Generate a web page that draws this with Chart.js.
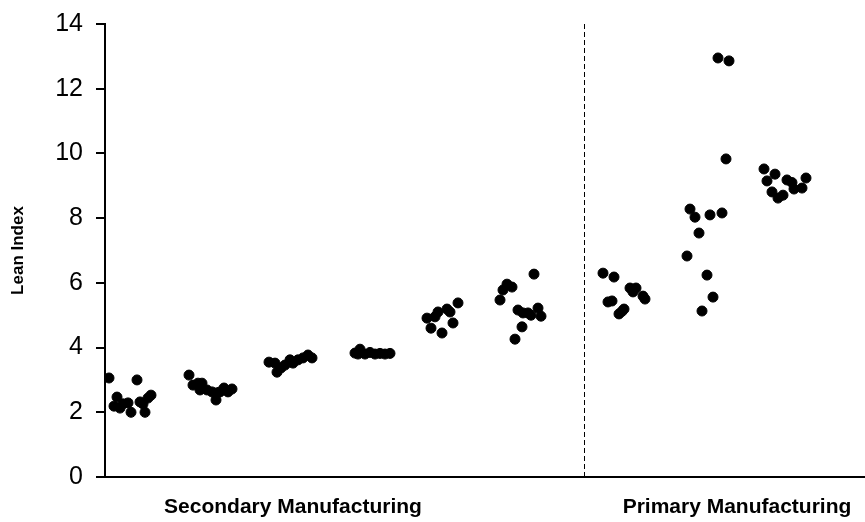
<!DOCTYPE html>
<html>
<head>
<meta charset="utf-8">
<script src="https://cdn.jsdelivr.net/npm/chart.js@4/dist/chart.umd.min.js"></script>
<style>
  html, body { margin: 0; padding: 0; background: #fff; }
  #wrap { width: 865px; height: 522px; }
</style>
</head>
<body>
<div id="wrap"><canvas id="chart" width="865" height="522"></canvas></div>
<script>
// Posições horizontais (unidades arbitrárias) e Lean Index de cada empresa
const secondaryX = [
    0.2, 1.6, 0.6, 0.45, 0.75, 0.9, 1.15, 1.3, 1.75, 2.0, 2.15, 2.3, 1.9,
    4.2, 4.4, 4.65, 4.85, 4.75, 5.1, 5.35, 5.55, 5.75, 5.95, 6.15, 6.35, 5.6,
    8.2, 8.5, 8.6, 8.8, 9.0, 9.25, 9.4, 9.65, 9.9, 10.15, 10.35,
    12.5, 12.75, 13.0, 13.25, 13.5, 13.75, 14.0, 12.65, 14.25,
    16.1, 16.3, 16.5, 16.65, 16.85, 17.1, 17.25, 17.4, 17.65,
    19.75, 19.9, 20.1, 20.35, 21.45, 20.65, 20.9, 21.15, 21.3, 21.65, 21.8, 20.85, 20.5
];
const secondaryY = [
    3.06, 3.0, 2.47, 2.19, 2.13, 2.26, 2.29, 2.0, 2.32, 2.0, 2.44, 2.53, 2.26,
    3.15, 2.84, 2.9, 2.9, 2.69, 2.69, 2.63, 2.38, 2.63, 2.75, 2.63, 2.72, 2.6,
    3.55, 3.52, 3.24, 3.37, 3.46, 3.62, 3.52, 3.62, 3.68, 3.77, 3.68,
    3.83, 3.95, 3.8, 3.85, 3.8, 3.82, 3.8, 3.8, 3.82,
    4.91, 4.6, 4.95, 5.1, 4.45, 5.19, 5.1, 4.76, 5.38,
    5.47, 5.78, 5.96, 5.87, 6.27, 5.16, 5.07, 5.07, 5.0, 5.22, 4.97, 4.64, 4.26
];
const primaryX = [
    24.9, 25.45, 26.25, 26.55, 26.4, 26.9, 27.0, 25.15, 25.35, 25.95, 25.7, 25.85,
    30.65, 31.2, 31.05, 29.25, 29.5, 30.25, 30.85, 29.7, 29.1, 30.1, 30.4, 29.85,
    32.95, 33.5, 33.1, 34.1, 34.35, 34.45, 34.85, 35.05, 33.35, 33.65, 33.9
];
const primaryY = [
    6.3, 6.18, 5.84, 5.84, 5.72, 5.59, 5.5, 5.41, 5.44, 5.19, 5.04, 5.12,
    12.95, 12.86, 9.83, 8.28, 8.03, 8.1, 8.16, 7.54, 6.83, 6.24, 5.56, 5.13,
    9.52, 9.36, 9.15, 9.18, 9.1, 8.9, 8.93, 9.24, 8.81, 8.62, 8.71
];

const groupLabels = ['Secondary Manufacturing', 'Primary Manufacturing'];
const groupCenters = [9.4, 31.6];
const dividerX = 23.975;
const yTicks = [0, 2, 4, 6, 8, 10, 12, 14];

const toPoints = (xs, ys) => xs.map((x, i) => ({ x: x, y: ys[i] }));
const fontFamily = 'Arial, "Liberation Sans", sans-serif';

const ctx = document.getElementById('chart').getContext('2d');
new Chart(ctx, {
    type: 'scatter',
    data: {
        datasets: [
            {
                data: toPoints(secondaryX, secondaryY),
                backgroundColor: '#000',
                borderColor: '#000',
                pointRadius: 5,
                pointHoverRadius: 5
            },
            {
                data: toPoints(primaryX, primaryY),
                backgroundColor: '#000',
                borderColor: '#000',
                pointRadius: 5,
                pointHoverRadius: 5
            },
            {
                // linha tracejada a separar os dois grupos
                type: 'line',
                data: [{ x: dividerX, y: 0 }, { x: dividerX, y: 14 }],
                borderColor: '#000',
                borderWidth: 1,
                borderDash: [5, 3],
                pointRadius: 0,
                fill: false
            }
        ]
    },
    options: {
        responsive: false,
        animation: false,
        layout: { autoPadding: false, padding: { top: 24, right: 0, left: 0, bottom: 0 } },
        plugins: {
            legend: { display: false },
            tooltip: { enabled: false }
        },
        scales: {
            x: {
                type: 'linear',
                min: 0,
                max: 38,
                afterFit: scale => {
                    scale.height = 45;
                    scale.paddingLeft = 0;
                    scale.paddingRight = 0;
                },
                afterBuildTicks: scale => {
                    scale.ticks = groupCenters.map(v => ({ value: v }));
                },
                grid: { display: false, drawTicks: false },
                border: { display: true, color: '#000', width: 2 },
                ticks: {
                    color: '#000',
                    padding: 18,
                    maxRotation: 0,
                    autoSkip: false,
                    font: { family: fontFamily, size: 21, weight: 'bold' },
                    callback: (value, index) => groupLabels[index]
                }
            },
            y: {
                min: 0,
                max: 14,
                afterFit: scale => {
                    scale.width = 105;
                    scale.paddingTop = 0;
                    scale.paddingBottom = 0;
                },
                afterBuildTicks: scale => {
                    scale.ticks = yTicks.map(v => ({ value: v }));
                },
                grid: {
                    drawOnChartArea: false,
                    drawTicks: true,
                    tickLength: 9,
                    color: '#000',
                    lineWidth: 2
                },
                border: { display: true, color: '#000', width: 2 },
                title: {
                    display: true,
                    text: 'Lean Index',
                    color: '#000',
                    font: { family: fontFamily, size: 17, weight: 'bold' },
                    padding: { top: 8, bottom: 4 }
                },
                ticks: {
                    color: '#000',
                    padding: 13,
                    font: { family: fontFamily, size: 25 }
                }
            }
        }
    }
});
</script>
</body>
</html>
